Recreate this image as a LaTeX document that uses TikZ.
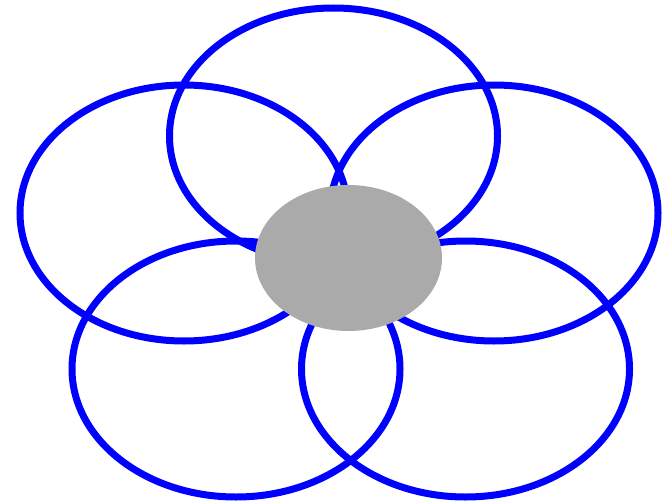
\documentclass[tikz,border=0pt]{standalone}
\usetikzlibrary{shapes.geometric}
\definecolor{petalblue}{HTML}{0000FF}
\definecolor{coregray}{HTML}{AAAAAA}
\begin{document}
\begin{tikzpicture}[x=1pt,y=-1pt,
  petal/.style={ellipse,draw=petalblue,line width=7pt,inner sep=0pt,outer sep=0pt,
    minimum width=328pt,minimum height=256pt},
  core/.style={ellipse,fill=coregray,draw=none,inner sep=0pt,outer sep=0pt,
    minimum width=187pt,minimum height=146pt}]
\useasboundingbox (0,0) rectangle (666,503);
\node[petal] (ptop) at (333.5,136) {};
\node[petal] (pleft) at (184,213) {};
\node[petal] (pright) at (494,213) {};
\node[petal] (pbl) at (236,369) {};
\node[petal] (pbr) at (465.5,369) {};
\node[core] (center) at (348.5,258) {};
\end{tikzpicture}
\end{document}
